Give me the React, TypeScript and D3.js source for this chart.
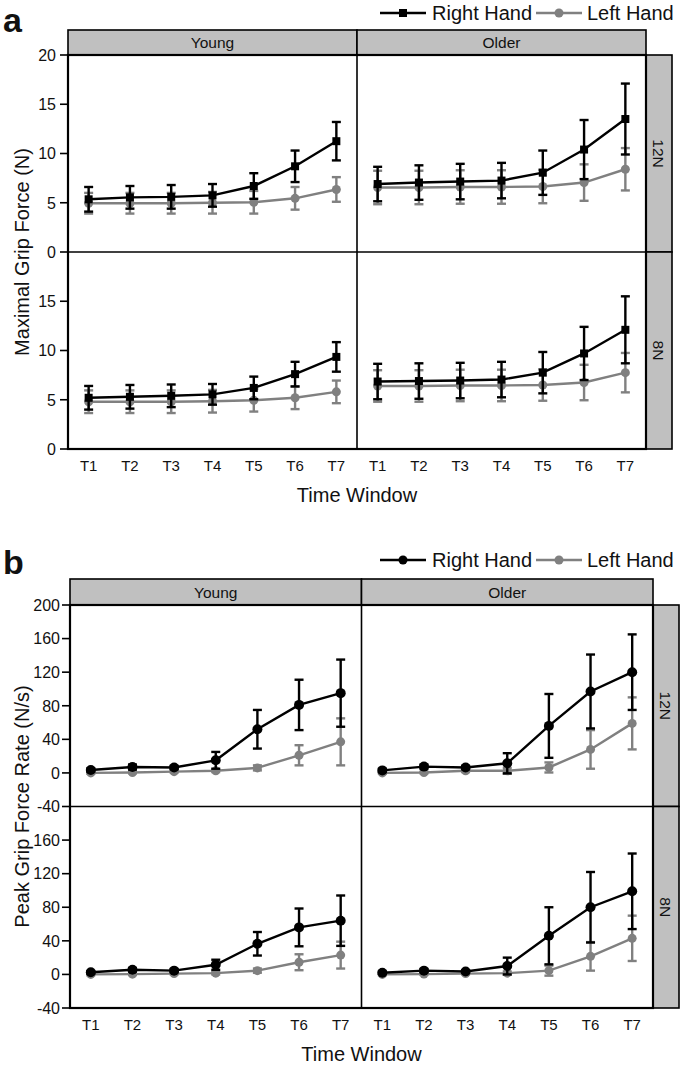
import React from "react";
import * as d3 from "d3";

const windows = ["T1", "T2", "T3", "T4", "T5", "T6", "T7"];
const groups = ["Young", "Older"];
const loads = ["12N", "8N"];

// a: maximal grip force (N), means and SDs
const mgfYoung12Right = [5.35, 5.55, 5.6, 5.75, 6.7, 8.7, 11.25];
const mgfYoung12RightSd = [1.25, 1.15, 1.2, 1.15, 1.3, 1.6, 1.95];
const mgfYoung12Left = [4.95, 4.95, 4.95, 5.0, 5.05, 5.45, 6.35];
const mgfYoung12LeftSd = [1.05, 1.05, 1.05, 1.1, 1.15, 1.15, 1.25];
const mgfOlder12Right = [6.9, 7.05, 7.15, 7.25, 8.05, 10.4, 13.5];
const mgfOlder12RightSd = [1.75, 1.75, 1.8, 1.8, 2.25, 3.0, 3.6];
const mgfOlder12Left = [6.55, 6.55, 6.6, 6.6, 6.65, 7.05, 8.4];
const mgfOlder12LeftSd = [1.7, 1.7, 1.7, 1.7, 1.7, 1.85, 2.15];
const mgfYoung8Right = [5.2, 5.3, 5.4, 5.55, 6.2, 7.6, 9.35];
const mgfYoung8RightSd = [1.2, 1.2, 1.15, 1.05, 1.15, 1.25, 1.5];
const mgfYoung8Left = [4.8, 4.8, 4.8, 4.85, 4.95, 5.2, 5.8];
const mgfYoung8LeftSd = [1.15, 1.15, 1.15, 1.15, 1.15, 1.15, 1.15];
const mgfOlder8Right = [6.85, 6.9, 6.95, 7.05, 7.75, 9.7, 12.1];
const mgfOlder8RightSd = [1.8, 1.8, 1.8, 1.8, 2.1, 2.7, 3.4];
const mgfOlder8Left = [6.4, 6.4, 6.45, 6.45, 6.5, 6.75, 7.75];
const mgfOlder8LeftSd = [1.6, 1.6, 1.6, 1.6, 1.6, 1.8, 2.0];

// b: peak grip force rate (N/s), means and SDs
const pgfrYoung12Right = [3.5, 7, 6.5, 15, 52, 81, 95];
const pgfrYoung12RightSd = [2, 3, 2, 10, 23, 30, 40];
const pgfrYoung12Left = [0, 0.5, 1.5, 2.5, 6, 21, 37];
const pgfrYoung12LeftSd = [1, 1, 1, 1.5, 3, 12, 28];
const pgfrOlder12Right = [3, 7.5, 6.5, 11.5, 56, 97, 120];
const pgfrOlder12RightSd = [2, 2.5, 2, 12, 38, 44, 45];
const pgfrOlder12Left = [0, 0.5, 2.5, 2.5, 6.5, 28, 59];
const pgfrOlder12LeftSd = [1, 1, 1.5, 3.5, 6, 23, 31];
const pgfrYoung8Right = [2.5, 5.5, 4.5, 11.5, 36.5, 56, 64];
const pgfrYoung8RightSd = [1.5, 2, 2, 6, 14, 22.5, 30];
const pgfrYoung8Left = [0, 0.3, 1, 1.5, 4.5, 14.5, 23];
const pgfrYoung8LeftSd = [1, 1, 1, 1.5, 2.5, 9.5, 16];
const pgfrOlder8Right = [2, 4.5, 3.5, 10, 46, 80, 99];
const pgfrOlder8RightSd = [1.5, 2, 1.5, 10, 34, 42, 45];
const pgfrOlder8Left = [0, 0.4, 1, 1.5, 4.5, 21.5, 43];
const pgfrOlder8LeftSd = [1, 1, 1, 2, 6, 17, 27];

const mgfTicks = [0, 5, 10, 15, 20];
const pgfrTicks = [-40, 0, 40, 80, 120, 160, 200];

const mgfFacets = [
  { group: "Young", load: "12N", right: mgfYoung12Right, rightSd: mgfYoung12RightSd, left: mgfYoung12Left, leftSd: mgfYoung12LeftSd },
  { group: "Older", load: "12N", right: mgfOlder12Right, rightSd: mgfOlder12RightSd, left: mgfOlder12Left, leftSd: mgfOlder12LeftSd },
  { group: "Young", load: "8N", right: mgfYoung8Right, rightSd: mgfYoung8RightSd, left: mgfYoung8Left, leftSd: mgfYoung8LeftSd },
  { group: "Older", load: "8N", right: mgfOlder8Right, rightSd: mgfOlder8RightSd, left: mgfOlder8Left, leftSd: mgfOlder8LeftSd },
];
const pgfrFacets = [
  { group: "Young", load: "12N", right: pgfrYoung12Right, rightSd: pgfrYoung12RightSd, left: pgfrYoung12Left, leftSd: pgfrYoung12LeftSd },
  { group: "Older", load: "12N", right: pgfrOlder12Right, rightSd: pgfrOlder12RightSd, left: pgfrOlder12Left, leftSd: pgfrOlder12LeftSd },
  { group: "Young", load: "8N", right: pgfrYoung8Right, rightSd: pgfrYoung8RightSd, left: pgfrYoung8Left, leftSd: pgfrYoung8LeftSd },
  { group: "Older", load: "8N", right: pgfrOlder8Right, rightSd: pgfrOlder8RightSd, left: pgfrOlder8Left, leftSd: pgfrOlder8LeftSd },
];

const FONT = "'Liberation Sans', Arial, sans-serif";
const BLACK = "#000";
const GRAY = "#808080";
const STRIP = "#c0c0c0";

function Marker({ x, y, shape, color, size }: any) {
  if (shape === "square")
    return <rect x={x - size / 2} y={y - size / 2} width={size} height={size} fill={color} />;
  return <circle cx={x} cy={y} r={size / 2} fill={color} />;
}

function Series({ xs, y, mean, sd, color, shape, size }: any) {
  const pts = mean.map((m: number, i: number) => [xs(windows[i]), y(m)]);
  const line = d3.line()(pts as any) || "";
  const cap = 4.5;
  return (
    <g>
      {mean.map((m: number, i: number) => {
        const cx = xs(windows[i]);
        const y1 = y(m + sd[i]);
        const y2 = y(m - sd[i]);
        return (
          <g key={i} stroke={color} strokeWidth={2.4}>
            <line x1={cx} x2={cx} y1={y1} y2={y2} />
            <line x1={cx - cap} x2={cx + cap} y1={y1} y2={y1} />
            <line x1={cx - cap} x2={cx + cap} y1={y2} y2={y2} />
          </g>
        );
      })}
      <path d={line} fill="none" stroke={color} strokeWidth={2.4} />
      {pts.map((p: number[], i: number) => (
        <Marker key={i} x={p[0]} y={p[1]} shape={shape} color={color} size={size} />
      ))}
    </g>
  );
}

function Panel({ letter, headerTop, plotTop, facetH, left, right, stripW, legendY, letterY, facets, yDomain, yTicks, yLabel, shape, tickGap }: any) {
  const xOuter = d3.scaleBand().domain(groups).range([left, right]);
  const bw = xOuter.bandwidth();
  const xInner = (g: string) => {
    const s = d3.scaleBand().domain(windows).range([xOuter(g)!, xOuter(g)! + bw]);
    return (w: string) => s(w)! + s.bandwidth() / 2;
  };
  const yFor = (load: string) => {
    const i = loads.indexOf(load);
    return d3.scaleLinear().domain(yDomain).range([plotTop + (i + 1) * facetH, plotTop + i * facetH]);
  };
  const bottom = plotTop + loads.length * facetH;
  const blackSize = shape === "square" ? 8 : 10;
  const graySize = 9;

  return (
    <g fontFamily={FONT}>
      <text x={3} y={letterY} fontSize={34} fontWeight="bold" fill="#111">{letter}</text>

      {/* legend */}
      <g>
        <line x1={380} x2={426} y1={legendY} y2={legendY} stroke={BLACK} strokeWidth={2.4} />
        <Marker x={403} y={legendY} shape={shape} color={BLACK} size={shape === "square" ? 8 : 9} />
        <text x={432} y={legendY} dy="0.36em" fontSize={20} fill="#111">Right Hand</text>
        <line x1={536} x2={582} y1={legendY} y2={legendY} stroke={GRAY} strokeWidth={2.4} />
        <Marker x={559} y={legendY} shape="circle" color={GRAY} size={9} />
        <text x={587} y={legendY} dy="0.36em" fontSize={20} fill="#111">Left Hand</text>
      </g>

      {/* column strips */}
      {groups.map((g) => (
        <g key={g}>
          <rect x={xOuter(g)} y={headerTop} width={bw} height={plotTop - headerTop} fill={STRIP} stroke={BLACK} strokeWidth={1.6} />
          <text x={xOuter(g)! + bw / 2} y={(headerTop + plotTop) / 2} dy="0.36em" textAnchor="middle" fontSize={15.5} fill="#111">{g}</text>
        </g>
      ))}

      {/* row strips */}
      {loads.map((l, i) => {
        const cy = plotTop + i * facetH + facetH / 2;
        return (
          <g key={l}>
            <rect x={right} y={plotTop + i * facetH} width={stripW} height={facetH} fill={STRIP} stroke={BLACK} strokeWidth={1.6} />
            <text transform={`translate(${right + stripW / 2},${cy}) rotate(90)`} dy="0.36em" textAnchor="middle" fontSize={15.5} fill="#111">{l}</text>
          </g>
        );
      })}

      {/* plot background and dividers */}
      <rect x={left} y={plotTop} width={right - left} height={bottom - plotTop} fill="#fff" />
      <line x1={left} x2={right} y1={plotTop + facetH} y2={plotTop + facetH} stroke={BLACK} strokeWidth={1.6} />
      <line x1={xOuter("Older")} x2={xOuter("Older")} y1={plotTop} y2={bottom} stroke={BLACK} strokeWidth={1.6} />

      {/* y axes */}
      {loads.map((l, i) => {
        const y = yFor(l);
        const ticks = i === 0 ? yTicks : yTicks.slice(0, -1);
        return (
          <g key={l}>
            {ticks.map((t: number) => (
              <g key={t}>
                <line x1={left - 8} x2={left} y1={y(t)} y2={y(t)} stroke={BLACK} strokeWidth={1.6} />
                <text x={left - tickGap} y={y(t)} dy="0.36em" textAnchor="end" fontSize={16} fill="#111">{t}</text>
              </g>
            ))}
          </g>
        );
      })}

      {/* x tick labels */}
      {groups.map((g) => {
        const xs = xInner(g);
        return windows.map((w) => (
          <text key={g + w} x={xs(w)} y={bottom + 22} textAnchor="middle" fontSize={15} fill="#111">{w}</text>
        ));
      })}

      {/* data */}
      {facets.map((f: any) => {
        const xs = xInner(f.group);
        const y = yFor(f.load);
        return (
          <g key={f.group + f.load}>
            <Series xs={xs} y={y} mean={f.left} sd={f.leftSd} color={GRAY} shape="circle" size={graySize} />
            <Series xs={xs} y={y} mean={f.right} sd={f.rightSd} color={BLACK} shape={shape} size={blackSize} />
          </g>
        );
      })}

      <rect x={left} y={plotTop} width={right - left} height={bottom - plotTop} fill="none" stroke={BLACK} strokeWidth={2.2} />

      <text x={(left + right) / 2} y={bottom + 53} textAnchor="middle" fontSize={20} fill="#111">Time Window</text>
      <text transform={`translate(29,${plotTop + facetH})rotate(-90)`} textAnchor="middle" fontSize={20} fill="#111">{yLabel}</text>
    </g>
  );
}

export default function App() {
  return (
    <svg width={685} height={1067} style={{ position: "absolute", left: 0, top: 0, background: "#fff" }}>
      <rect width={685} height={1067} fill="#fff" />
      <Panel letter="a" headerTop={30} plotTop={55} facetH={197} left={68} right={646} stripW={26}
        legendY={13} letterY={32} facets={mgfFacets} yDomain={[0, 20]} yTicks={mgfTicks}
        yLabel="Maximal Grip Force (N)" shape="square" tickGap={12} />
      <Panel letter="b" headerTop={579} plotTop={605} facetH={201.5} left={70} right={653} stripW={26}
        legendY={560} letterY={574} facets={pgfrFacets} yDomain={[-40, 200]} yTicks={pgfrTicks}
        yLabel="Peak Grip Force Rate (N/s)" shape="circle" tickGap={10} />
    </svg>
  );
}
